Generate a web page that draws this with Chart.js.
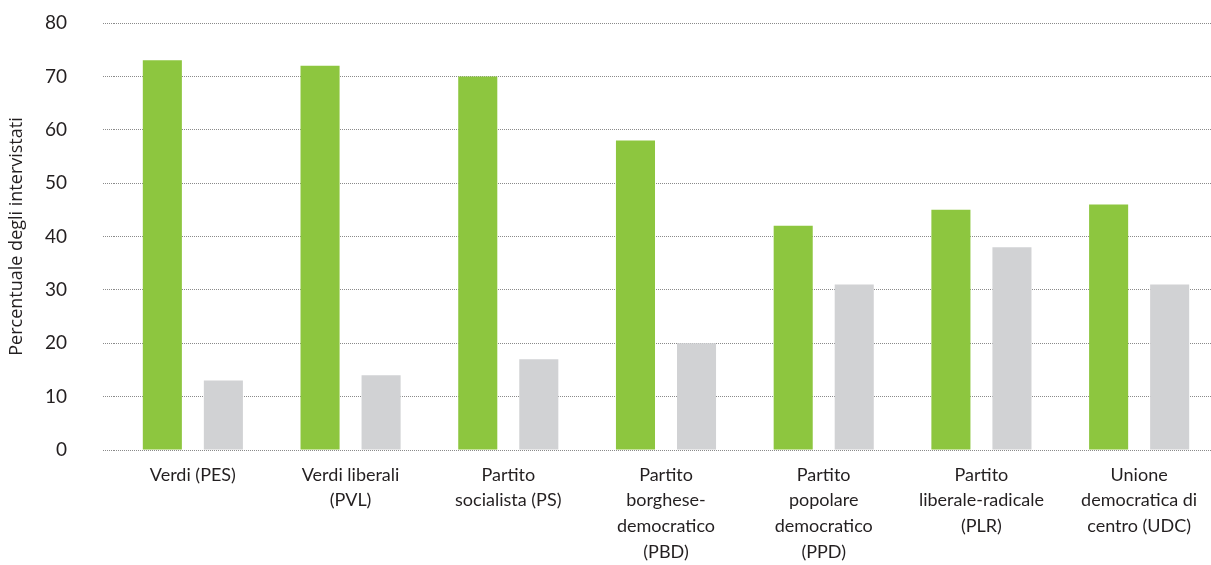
<!DOCTYPE html>
<html>
<head>
<meta charset="utf-8">
<script src="https://cdn.jsdelivr.net/npm/chart.js@4/dist/chart.umd.min.js"></script>
<style>
  html, body { margin: 0; padding: 0; background: #ffffff; overflow: hidden; }
  #wrap { position: relative; width: 1218px; height: 565px; }
</style>
</head>
<body>
<div id="wrap"><canvas id="c"></canvas></div>
<script>
const categories = [
  ["Verdi (PES)"],
  ["Verdi liberali", "(PVL)"],
  ["Partito", "socialista (PS)"],
  ["Partito", "borghese-", "democratico", "(PBD)"],
  ["Partito", "popolare", "democratico", "(PPD)"],
  ["Partito", "liberale-radicale", "(PLR)"],
  ["Unione", "democratica di", "centro (UDC)"]
];
const seriesGreen = [73, 72, 70, 58, 42, 45, 46];
const seriesGrey = [13, 14, 17, 20, 31, 38, 31];
const yTicks = [0, 10, 20, 30, 40, 50, 60, 70, 80];
const yTitle = "Percentuale degli intervistati";

const textColor = "#231f20";
const gridColor = "#8a8a8a";

new Chart(document.getElementById("c"), {
  type: "bar",
  data: {
    labels: categories,
    datasets: [
      { label: "Serie 1", data: seriesGreen, backgroundColor: "#8dc63f", borderWidth: 0 },
      { label: "Serie 2", data: seriesGrey, backgroundColor: "#d1d2d4", borderWidth: 0 }
    ]
  },
  options: {
    responsive: true,
    maintainAspectRatio: false,
    animation: false,
    layout: { padding: { top: 23, right: 0, bottom: 0, left: 0 } },
    plugins: { legend: { display: false }, tooltip: { enabled: false } },
    datasets: { bar: { categoryPercentage: 0.774, barPercentage: 0.64 } },
    scales: {
      x: {
        grid: { display: false, drawTicks: false },
        border: { display: false },
        ticks: {
          color: textColor,
          font: { family: "Lato", size: 18, lineHeight: 1.43 },
          padding: 12,
          maxRotation: 0,
          autoSkip: false
        },
        afterFit: (s) => { s.height = 115; s.paddingLeft = 0; s.paddingRight = 0; }
      },
      y: {
        min: 0, max: 80,
        afterBuildTicks: (s) => { s.ticks = yTicks.map(v => ({ value: v })); },
        grid: {
          color: gridColor,
          lineWidth: 1,
          borderDash: [1, 1],
          drawTicks: true,
          tickLength: 11,
          tickColor: gridColor,
          tickBorderDash: [1, 1]
        },
        border: { display: false, dash: [1, 1] },
        ticks: {
          color: textColor,
          font: { family: "Lato", size: 19 },
          padding: 36
        },
        title: {
          display: true,
          text: yTitle,
          color: textColor,
          font: { family: "Open Sans", size: 18 },
          padding: { top: 6, bottom: 0 }
        },
        afterFit: (s) => { s.width = 114; s.paddingTop = 0; s.paddingBottom = 0; }
      }
    }
  }
});
</script>
</body>
</html>
